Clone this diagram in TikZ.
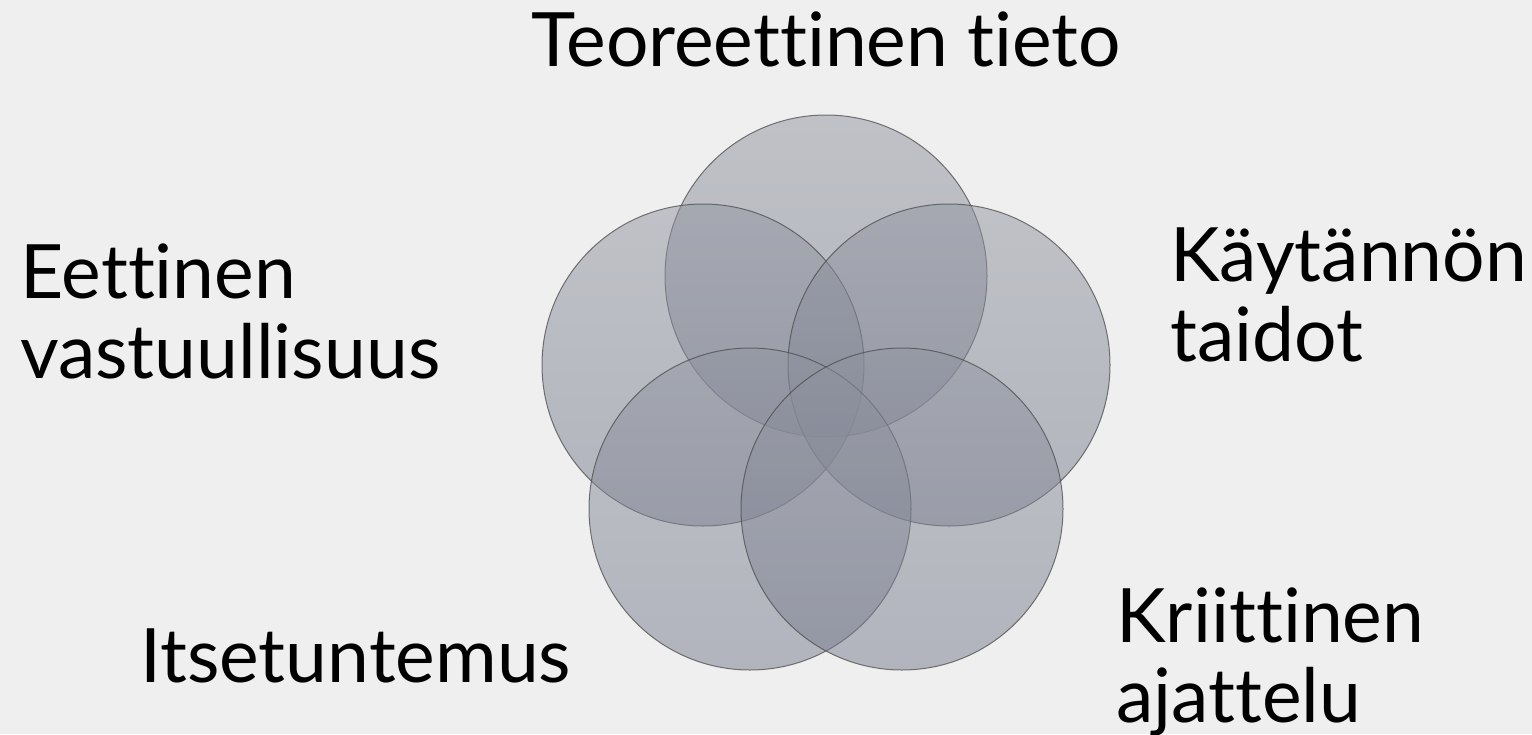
\documentclass[tikz,border=0pt]{standalone}
\usepackage{fontspec}
\setmainfont{Lato}[Ligatures=NoCommon]
\begin{document}
\begin{tikzpicture}[x=1pt,y=-1pt,
  ring/.style={draw=black!70, line width=1pt, draw opacity=0.75,
     top color=ctop, bottom color=cbot, fill opacity=0.5},
  lbl/.style={inner sep=0pt, font=\fontsize{75}{80}\selectfont, text=black, align=left}]
\definecolor{bg}{RGB}{239,239,239}
\definecolor{ctop}{RGB}{145,149,160}
\definecolor{cbot}{RGB}{118,123,141}
\fill[bg] (0,0) rectangle (1532,734);
\useasboundingbox (0,0) rectangle (1532,734);
\foreach \n/\x/\y in {t/826/276, ul/703/365, ur/949/365, ll/750/509, lr/902/509}{
  \path[ring] (\x,\y) circle[radius=161] coordinate (\n);
}
\node[lbl, anchor=base] (teo) at (826,66) {Teoreettinen tieto};
\node[lbl, anchor=base west] (eet) at (20,378) {Eettinen\\vastuullisuus};
\node[lbl, anchor=base west] (kay) at (1170,361) {Käytännön\\taidot};
\node[lbl, anchor=base west] (its) at (140,682) {Itsetuntemus};
\node[lbl, anchor=base west] (kri) at (1116,722) {Kriittinen\\ajattelu};
\end{tikzpicture}
\end{document}
